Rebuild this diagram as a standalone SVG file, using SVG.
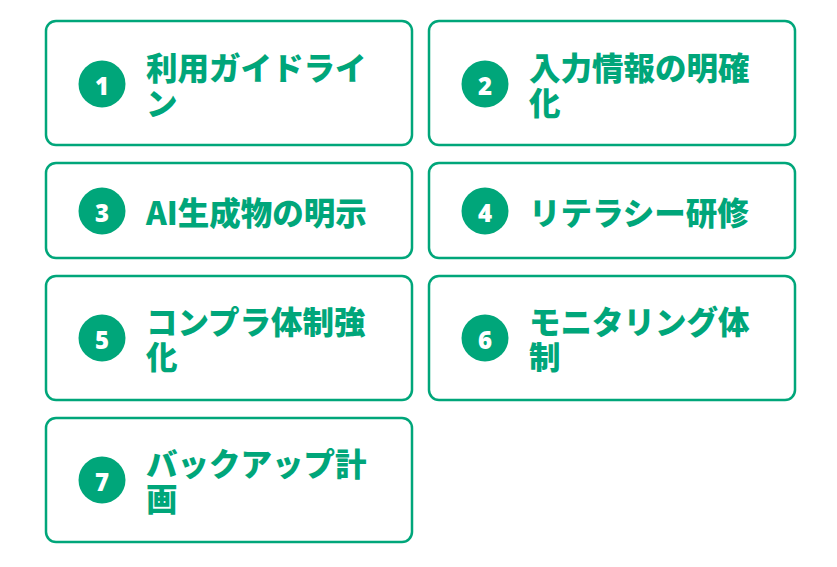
<svg xmlns="http://www.w3.org/2000/svg" width="837" height="567" viewBox="0 0 837 567">
<style>
.card{fill:#fff;stroke:#00a67a;stroke-width:2.5}
.num{fill:#00a67a}
.nt{fill:#fff;font-family:"Noto Sans","Noto Sans CJK JP",sans-serif;font-weight:900;font-size:24px;text-anchor:middle;dominant-baseline:central}
.lbl{fill:#00a67a;font-family:"Noto Sans CJK JP",sans-serif;font-weight:900;font-size:31.5px;dominant-baseline:central}
</style>
<rect width="837" height="567" fill="#fff"/>
<g id="n1">
<rect class="card" x="46" y="21" width="366" height="124" rx="10"/>
<circle class="num" cx="102" cy="84" r="23.5"/><text class="nt" x="102" y="85">1</text>
<text class="lbl" x="146" y="66">利用ガイドライ</text><text class="lbl" x="146" y="101">ン</text>
</g>
<g id="n2">
<rect class="card" x="429" y="21" width="366" height="124" rx="10"/>
<circle class="num" cx="485" cy="84" r="23.5"/><text class="nt" x="485" y="85">2</text>
<text class="lbl" x="529" y="66">入力情報の明確</text><text class="lbl" x="529" y="101">化</text>
</g>
<g id="n3">
<rect class="card" x="46" y="163" width="366" height="95" rx="10"/>
<circle class="num" cx="102" cy="211" r="23.5"/><text class="nt" x="102" y="212">3</text>
<text class="lbl" x="146" y="211">AI生成物の明示</text>
</g>
<g id="n4">
<rect class="card" x="429" y="163" width="366" height="95" rx="10"/>
<circle class="num" cx="485" cy="211" r="23.5"/><text class="nt" x="485" y="212">4</text>
<text class="lbl" x="529" y="211">リテラシー研修</text>
</g>
<g id="n5">
<rect class="card" x="46" y="276" width="366" height="124" rx="10"/>
<circle class="num" cx="102" cy="338" r="23.5"/><text class="nt" x="102" y="339">5</text>
<text class="lbl" x="146" y="320">コンプラ体制強</text><text class="lbl" x="146" y="355">化</text>
</g>
<g id="n6">
<rect class="card" x="429" y="276" width="366" height="124" rx="10"/>
<circle class="num" cx="485" cy="338" r="23.5"/><text class="nt" x="485" y="339">6</text>
<text class="lbl" x="529" y="320">モニタリング体</text><text class="lbl" x="529" y="355">制</text>
</g>
<g id="n7">
<rect class="card" x="46" y="418" width="366" height="124" rx="10"/>
<circle class="num" cx="102" cy="480" r="23.5"/><text class="nt" x="102" y="481">7</text>
<text class="lbl" x="146" y="462">バックアップ計</text><text class="lbl" x="146" y="497">画</text>
</g>
<g id="connectors"/>
</svg>
